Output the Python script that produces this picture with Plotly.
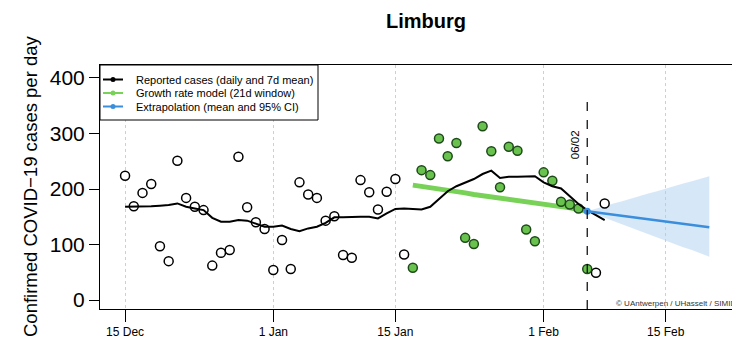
import pandas as pd
import plotly.graph_objects as go

# ---------------- data ----------------
title_text = "Limburg"
y_title = "Confirmed COVID\u221219 cases per day"
legend_labels = ["Reported cases (daily and 7d mean)",
                 "Growth rate model (21d window)",
                 "Extrapolation (mean and 95% CI)"]
credit_text = "\u00a9 UAntwerpen / UHasselt / SIMID (https://www.simid.be)"
cutoff_label = "06/02"
cutoff_date = "2021-02-06"

first_day = "2020-12-15"
daily_cases = [224, 169, 193, 209, 97, 70, 251, 184, 168, 162, 62, 85, 90, 258, 167, 140, 128,
               54, 108, 56, 212, 190, 184, 143, 151, 81, 76, 216, 194, 163, 195, 218, 82,
               58, 234, 225, 291, 259, 283, 112, 101, 313, 268, 203, 276, 269, 127, 106,
               230, 215, 177, 172, 165, 56, 49, 174]
mean_7d = [168, 168, 169, 169, 170, 171, 174, 168, 165, 162, 148, 141, 141, 144, 143, 138, 132,
           132, 134, 128, 124, 129, 132, 139, 149, 149, 150, 150, 150, 147, 156, 164, 165,
           164, 163, 168, 182, 196, 205, 211, 218, 227, 233, 220, 222, 222, 223, 223,
           212, 205, 201, 187, 173, 162, 153, 144]

window_start = "2021-01-17"
window_end = "2021-02-06"
growth_model = [207, 205, 202, 200, 197, 195, 193, 190, 188, 186, 184, 181, 179, 177, 175,
                172, 170, 168, 166, 163, 160]

extrap_start = "2021-02-06"
extrap_mean = [160, 158, 156, 154, 152, 150, 148, 146, 143, 141, 139, 137, 135, 133, 131]
extrap_upper = [160, 165, 169, 174, 178, 183, 187, 192, 196, 201, 205, 210, 214, 219, 223]
extrap_lower = [160, 154, 148, 142, 136, 131, 125, 119, 113, 107, 101, 95, 90, 84, 78]

x_tick_vals = ["2020-12-15", "2021-01-01", "2021-01-15", "2021-02-01", "2021-02-15"]
x_tick_text = ["15 Dec", "1 Jan", "15 Jan", "1 Feb", "15 Feb"]
y_tick_vals = [0, 100, 200, 300, 400]

# ---------------- derived ----------------
days = pd.date_range(first_day, periods=len(daily_cases), freq="D")
df = pd.DataFrame({"date": days, "cases": daily_cases, "mean": mean_7d})
in_win = (df["date"] >= window_start) & (df["date"] <= window_end)
win_dates = pd.date_range(window_start, periods=len(growth_model), freq="D")
ext_dates = pd.date_range(extrap_start, periods=len(extrap_mean), freq="D")

FONT = "Liberation Sans, Arial, Helvetica, sans-serif"
GREEN_LINE = "#78D257"
GREEN_FILL = "#69C24E"
GREEN_EDGE = "#1E4A1A"
BLUE = "#3A8EDB"
FAN = "rgba(165,203,240,0.45)"

# page body has an 8px default margin -> figure coordinates are screen - 8
OFF = 8
W, H = 740, 352
ML, MR, MT, MB = 92, 0, 57, 51
PW, PH = W - ML - MR, H - MT - MB


def px(xs):
    return (xs - OFF - ML) / PW


def py(ys):
    return (H - MB - (ys - OFF)) / PH


fig = go.Figure()

# CI fan
fig.add_trace(go.Scatter(x=ext_dates, y=extrap_upper, mode="lines",
                         line=dict(width=0, color=FAN), hoverinfo="skip", showlegend=False))
fig.add_trace(go.Scatter(x=ext_dates, y=extrap_lower, mode="lines", fill="tonexty",
                         fillcolor=FAN, line=dict(width=0, color=FAN),
                         hoverinfo="skip", showlegend=False))

# growth-rate model line
fig.add_trace(go.Scatter(x=win_dates, y=growth_model, mode="lines",
                         line=dict(color=GREEN_LINE, width=5), showlegend=False))

# daily points outside window (open)
out = df[~in_win]
fig.add_trace(go.Scatter(x=out["date"], y=out["cases"], mode="markers",
                         marker=dict(size=9, color="white",
                                     line=dict(color="black", width=1.5)),
                         showlegend=False))
# daily points inside window (green)
inn = df[in_win]
fig.add_trace(go.Scatter(x=inn["date"], y=inn["cases"], mode="markers",
                         marker=dict(size=9, color=GREEN_FILL,
                                     line=dict(color=GREEN_EDGE, width=1.5)),
                         showlegend=False))

# 7d mean
fig.add_trace(go.Scatter(x=df["date"], y=df["mean"], mode="lines",
                         line=dict(color="black", width=2), showlegend=False))

# extrapolation mean
fig.add_trace(go.Scatter(x=ext_dates, y=extrap_mean, mode="lines",
                         line=dict(color=BLUE, width=2.5), showlegend=False))
fig.add_trace(go.Scatter(x=ext_dates[:1], y=extrap_mean[:1], mode="markers",
                         marker=dict(size=7, color=BLUE), showlegend=False))

shapes = []
# cutoff dashed line
shapes.append(dict(type="line", xref="x", yref="paper", x0=cutoff_date, x1=cutoff_date,
                   y0=0, y1=py(97), line=dict(color="black", width=1.2, dash="dash"),
                   layer="above"))

# manual legend
shapes.append(dict(type="rect", xref="paper", yref="paper",
                   x0=px(100), x1=px(318), y0=py(120), y1=py(65),
                   line=dict(color="black", width=1), fillcolor="white", layer="above"))
leg_colors = ["black", GREEN_LINE, BLUE]
leg_rows = [79.5, 93, 106.5]
annotations = []
for lab, col, yy in zip(legend_labels, leg_colors, leg_rows):
    shapes.append(dict(type="line", xref="paper", yref="paper",
                       x0=px(103), x1=px(123), y0=py(yy), y1=py(yy),
                       line=dict(color=col, width=2), layer="above"))
    shapes.append(dict(type="circle", xref="paper", yref="paper",
                       x0=px(110.5), x1=px(115.5), y0=py(yy + 2.5), y1=py(yy - 2.5),
                       line=dict(color=col, width=0), fillcolor=col, layer="above"))
    annotations.append(dict(text=lab, xref="paper", yref="paper", x=px(134), y=py(yy),
                            xanchor="left", yanchor="middle", showarrow=False,
                            font=dict(family=FONT, size=11, color="black")))

# y-axis title
annotations.append(dict(text=y_title, xref="paper", yref="paper", x=px(30), y=py(186),
                        xanchor="center", yanchor="middle", textangle=-90, showarrow=False,
                        font=dict(family=FONT, size=18.5, color="black")))
# cutoff label
annotations.append(dict(text=cutoff_label, xref="x", yref="paper", x=cutoff_date, y=py(145),
                        xshift=-12, xanchor="center", yanchor="middle", textangle=-90,
                        showarrow=False, font=dict(family=FONT, size=11.5, color="black")))
# credit
annotations.append(dict(text=credit_text, xref="paper", yref="paper", x=px(614), y=py(303),
                        xanchor="left", yanchor="middle", showarrow=False,
                        font=dict(family=FONT, size=8, color="#333333")))

fig.update_layout(
    width=W, height=H,
    margin=dict(l=ML, r=MR, t=MT, b=MB, pad=0, autoexpand=False),
    paper_bgcolor="white", plot_bgcolor="white",
    showlegend=False,
    title=dict(text="<b>" + title_text + "</b>", x=(426 - OFF) / W, xanchor="center",
               y=1 - (21 - OFF) / H, yanchor="middle", xref="container", yref="container",
               font=dict(family=FONT, size=20, color="black")),
    font=dict(family=FONT, color="black"),
    shapes=shapes, annotations=annotations,
)
fig.update_xaxes(type="date", range=["2020-12-12 03:00", "2021-02-24 10:30"],
                 tickvals=x_tick_vals, ticktext=x_tick_text, automargin=False,
                 ticks="outside", ticklen=12, tickwidth=1, tickcolor="black",
                 tickfont=dict(family=FONT, size=12, color="black"),
                 showgrid=True, gridcolor="#cfcfcf", gridwidth=1, griddash="dot",
                 showline=True, linecolor="black", linewidth=1, mirror=True,
                 zeroline=False)
fig.update_yaxes(range=[-16.2, 423.4], tickvals=y_tick_vals, automargin=False,
                 ticks="outside", ticklen=10, tickwidth=1, tickcolor="black",
                 tickfont=dict(family=FONT, size=21, color="black"),
                 showgrid=False, zeroline=False,
                 showline=True, linecolor="black", linewidth=1, mirror=False)

fig.write_html("out.html")
